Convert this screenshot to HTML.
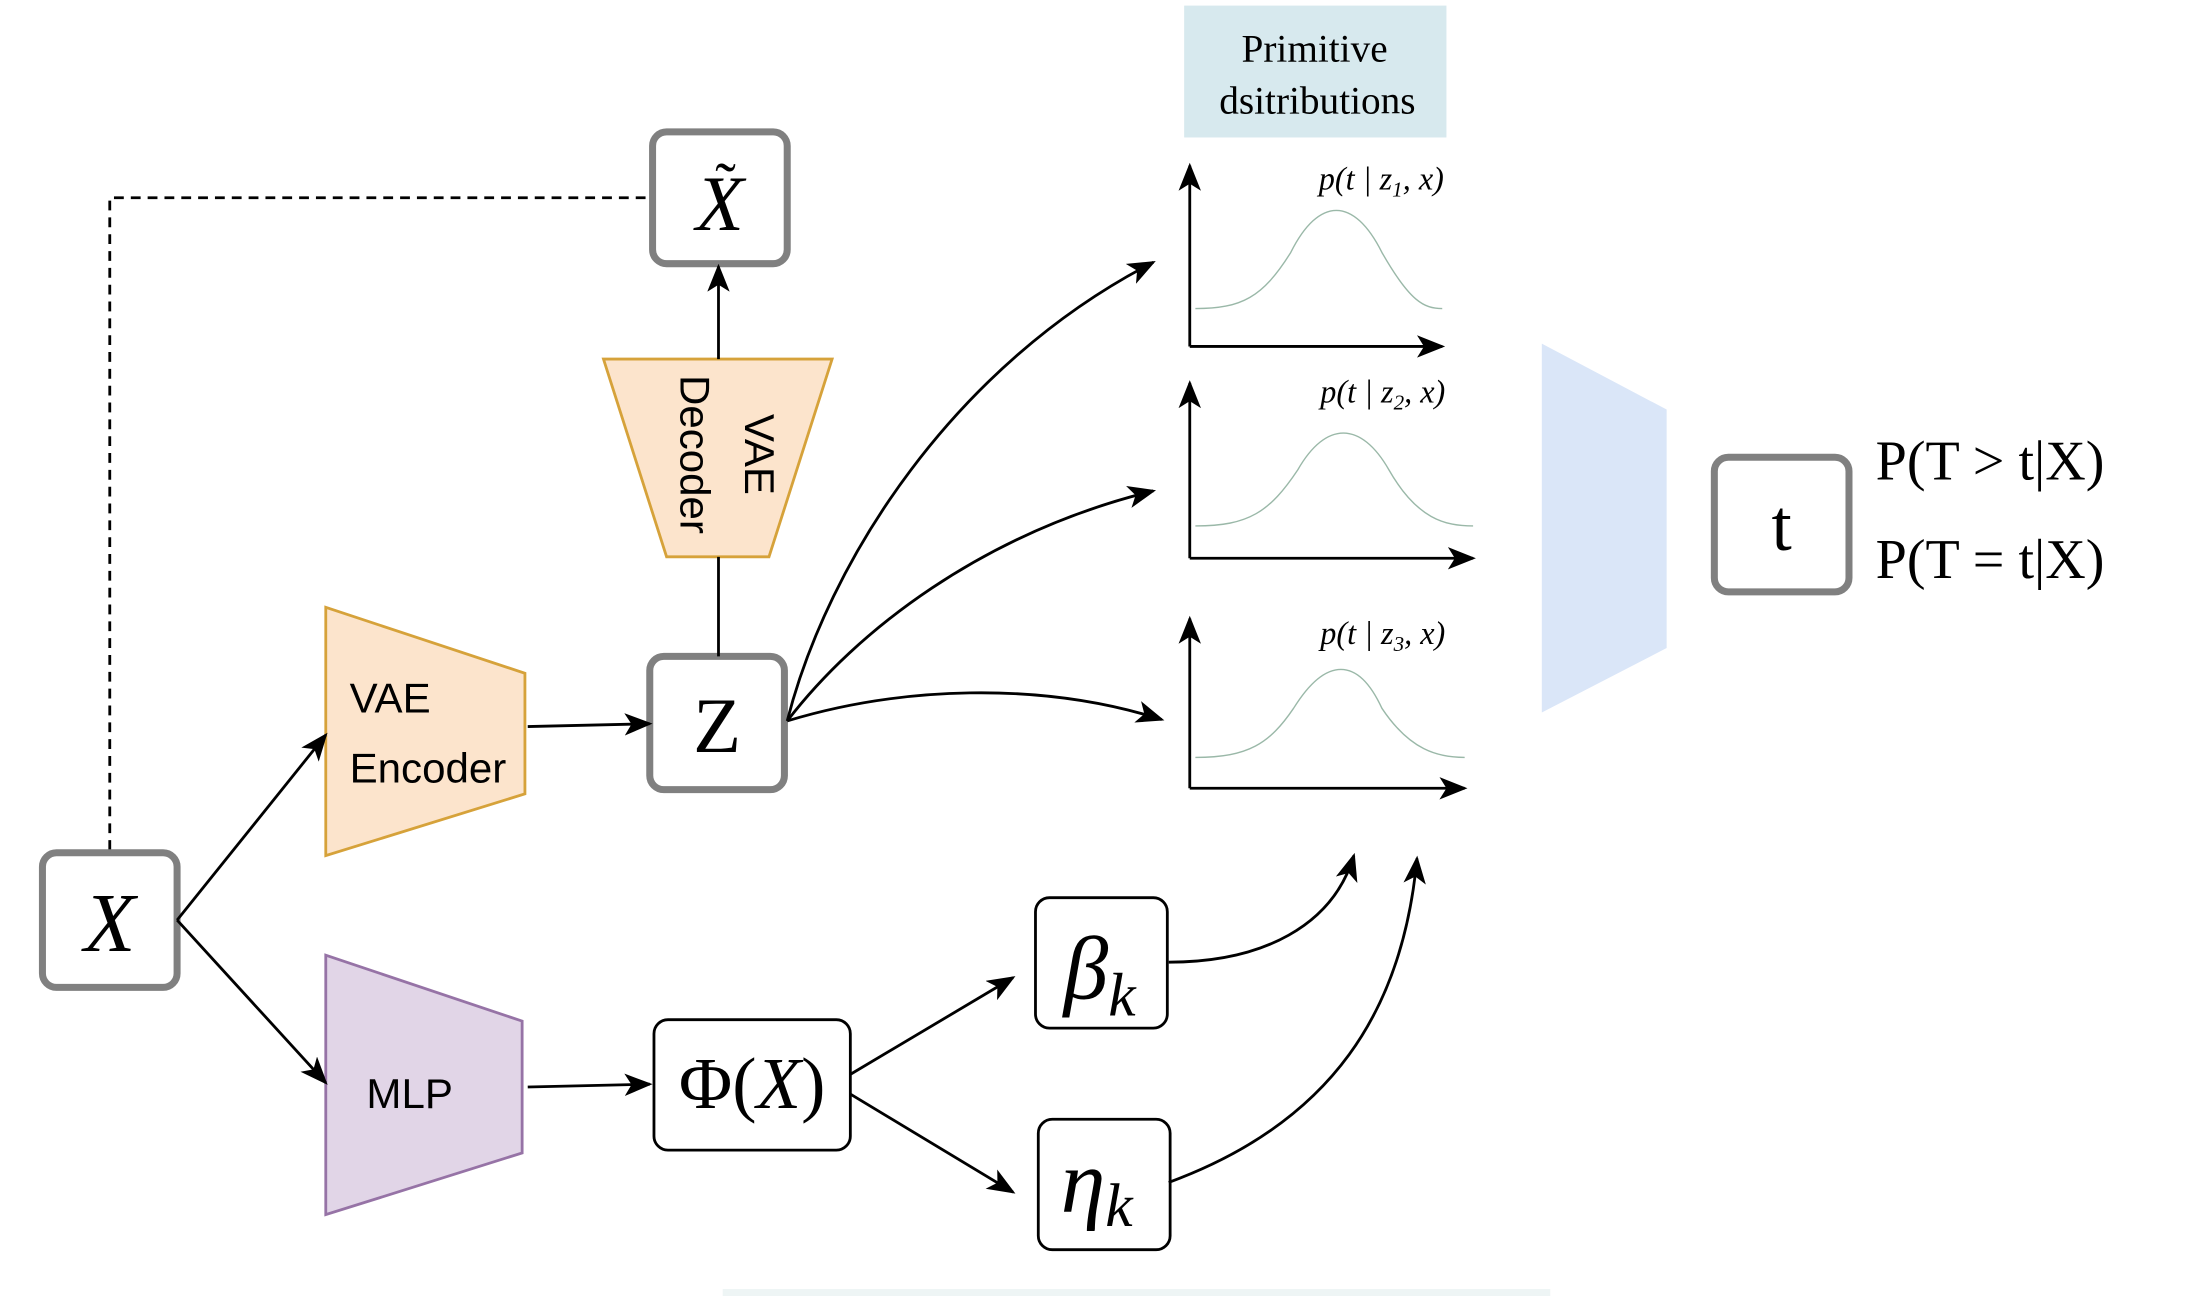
<!DOCTYPE html>
<html><head><meta charset="utf-8"><style>html,body{margin:0;padding:0;background:#fff}svg{display:block}</style></head>
<body>
<svg width="2200" height="1296" viewBox="0 0 1568 924" xmlns="http://www.w3.org/2000/svg">
<defs>
<marker id="ar" viewBox="0 0 20 16" refX="18" refY="8" markerWidth="20" markerHeight="16" markerUnits="userSpaceOnUse" orient="auto"><path d="M0,0 L20,8 L0,16 L5,8 Z" fill="#000"/></marker>
</defs>
<rect width="1568" height="924" fill="#fff"/>
<rect x="515" y="919" width="590" height="5" fill="#eef5f5"/>
<path d="M78,606 L78,141 L463,141" fill="none" stroke="#000" stroke-width="2" stroke-dasharray="7,5"/>
<polygon points="232,433 374,480 374,566 232,610" fill="#fce4cc" stroke="#d6a23a" stroke-width="2"/>
<text x="249" y="508" font-family="Liberation Sans, sans-serif" font-size="30">VAE</text>
<text x="249" y="558" font-family="Liberation Sans, sans-serif" font-size="30">Encoder</text>
<polygon points="430,256 593,256 548,397 475,397" fill="#fce4cc" stroke="#d6a23a" stroke-width="2"/>
<g transform="translate(511,324) rotate(90)" font-family="Liberation Sans, sans-serif" font-size="30" text-anchor="middle">
<text x="0" y="-20">VAE</text><text x="0" y="26">Decoder</text></g>
<polygon points="232,681 372,728 372,822 232,866" fill="#e1d5e7" stroke="#9673a6" stroke-width="2"/>
<text x="261" y="790" font-family="Liberation Sans, sans-serif" font-size="30">MLP</text>
<polygon points="1099,245 1188,292 1188,462 1099,508" fill="#dae6f8"/>
<rect x="844" y="4" width="187" height="94" fill="#d7e9ee"/>
<text x="937" y="44" text-anchor="middle" font-family="Liberation Serif, serif" font-size="28">Primitive</text>
<text x="939" y="81" text-anchor="middle" font-family="Liberation Serif, serif" font-size="28">dsitributions</text>
<g fill="#fff" stroke="#808080" stroke-width="5">
<rect x="30" y="608" width="96" height="96" rx="10"/>
<rect x="465" y="94" width="96" height="94" rx="10"/>
<rect x="463" y="468" width="96" height="95" rx="10"/>
<rect x="1222" y="326" width="96" height="96" rx="10"/>
</g>
<g fill="#fff" stroke="#000" stroke-width="2">
<rect x="466" y="727" width="140" height="93" rx="10"/>
<rect x="738" y="640" width="94" height="93" rx="10"/>
<rect x="740" y="798" width="94" height="93" rx="10"/>
</g>
<g font-family="Liberation Serif, serif" fill="#000">
<text x="78" y="678" text-anchor="middle" font-size="60" font-style="italic">X</text>
<text x="513" y="164" text-anchor="middle" font-size="56" font-style="italic">X</text>
<text x="517" y="146" text-anchor="middle" font-size="44">˜</text>
<text x="511" y="536" text-anchor="middle" font-size="56">Z</text>
<text x="1270" y="392" text-anchor="middle" font-size="52">t</text>
<text x="536" y="790" text-anchor="middle" font-size="52">Φ(<tspan font-style="italic">X</tspan>)</text>
<text x="758" y="712" font-size="64" font-style="italic">β<tspan font-size="44" dy="12">k</tspan></text>
<text x="756" y="864" font-size="64" font-style="italic">η<tspan font-size="44" dy="10">k</tspan></text>
<text x="1337" y="342" font-size="40">P(T &gt; t|X)</text>
<text x="1337" y="412" font-size="40">P(T = t|X)</text>
<text x="940" y="135" font-size="23" font-style="italic">p(t | z<tspan font-size="15" dy="5">1</tspan><tspan dy="-5">, x)</tspan></text>
<text x="941" y="287" font-size="23" font-style="italic">p(t | z<tspan font-size="15" dy="5">2</tspan><tspan dy="-5">, x)</tspan></text>
<text x="941" y="459" font-size="23" font-style="italic">p(t | z<tspan font-size="15" dy="5">3</tspan><tspan dy="-5">, x)</tspan></text>
</g>
<g fill="none" stroke="#9ab8a8" stroke-width="1">
<path d="M852,220 C885,220 900,212 920,180 C940,140 965,140 985,180 C1005,215 1015,220 1028,220"/>
<path d="M852,375 C890,375 905,365 925,335 C945,300 970,300 990,335 C1010,370 1030,375 1050,375"/>
<path d="M852,540 C890,540 905,530 922,505 C945,468 968,468 985,505 C1005,535 1025,540 1044,540"/>
</g>
<g fill="none" stroke="#000" stroke-width="2">
<path d="M848,247 L848,118" marker-end="url(#ar)"/><path d="M848,247 L1028,247" marker-end="url(#ar)"/>
<path d="M848,398 L848,273" marker-end="url(#ar)"/><path d="M848,398 L1050,398" marker-end="url(#ar)"/>
<path d="M848,562 L848,441" marker-end="url(#ar)"/><path d="M848,562 L1044,562" marker-end="url(#ar)"/>
<path d="M126,656 L232,524" marker-end="url(#ar)"/>
<path d="M126,656 L232,772" marker-end="url(#ar)"/>
<path d="M376,518 L463,516" marker-end="url(#ar)"/>
<path d="M376,775 L463,773" marker-end="url(#ar)"/>
<path d="M512,468 L512,397"/>
<path d="M512,256 L512,190" marker-end="url(#ar)"/>
<path d="M561,514 C590,400 680,260 822,187" marker-end="url(#ar)"/>
<path d="M561,514 C610,450 700,380 822,350" marker-end="url(#ar)"/>
<path d="M561,514 C640,490 740,485 828,513" marker-end="url(#ar)"/>
<path d="M606,766 L722,697" marker-end="url(#ar)"/>
<path d="M606,780 L722,850" marker-end="url(#ar)"/>
<path d="M833,686 C900,686 950,660 965,610" marker-end="url(#ar)"/>
<path d="M833,843 C950,800 1000,720 1010,612" marker-end="url(#ar)"/>
</g>
</svg>
</body></html>
